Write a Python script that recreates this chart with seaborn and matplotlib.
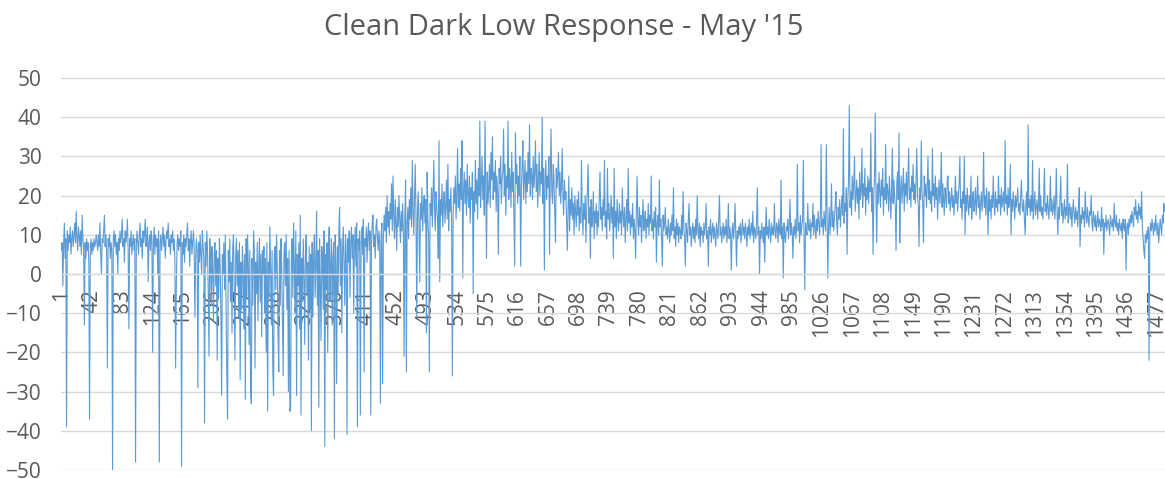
import matplotlib
matplotlib.use("Agg")
import matplotlib.pyplot as plt
import seaborn as sns
import pandas as pd

# half-hourly readings, one row per day (48 per day), May 2015
week1 = [
    6, 8, -3, 7, 13, 4, 9, -39, 11, 6, 10, 8, 12, 5, 9, 11, 7, 10, 13, 8, 16, 9, 6, 12, 10, 7, 11, 5, 15, 9, 7, -13, 8, 4, 9, 6, 8, 3, -37, 7, 9, 5, 8, 6, 9, 7, 8, 10,
    8, 6, 10, 7, 13, 5, 0, 9, 8, 11, 15, 7, 10, 6, -24, 9, 7, 10, 4, 8, 6, -50, 9, 11, 7, 10, 5, 8, 0, 9, 6, 11, 8, 10, 14, 7, 9, 3, 11, 8, 10, 14, 6, -14, 9, 7, 11, 5,
    8, 10, 6, 9, -48, 7, 11, 8, 5, 10, 13, 7, 9, 4, 11, 8, 10, 14, 7, 9, 12, -2, 8, 10, 6, 11, 9, -20, 8, 12, 5, 10, 7, 9, 0, 11, -48, 8, 10, 6, 9, 12, 7, 10, 4, 8, 11, 9,
    13, 7, 9, 5, 10, 8, 11, 6, 9, 4, -24, -2, 8, 10, 6, 9, 7, 11, -49, 8, 5, 10, 3, 9, 7, 10, 13, 6, 9, 2, 8, 11, 5, 8, 11, 7, -11, 4, 9, 6, -29, 8, 3, 10, 5, 0, 11, 7,
    4, -38, 8, 2, 11, 6, -5, -21, 9, 3, -8, 7, 1, -12, 5, 8, -3, 6, -22, 4, -6, 9, 2, -10, -31, 5, 0, 8, -4, 10, -9, -26, -37, 6, -2, 9, -7, 3, -15, 7, 10, -4, -22, 5, 9, -3, 6, -11,
    8, -27, 3, -9, 7, 1, -14, 5, -32, 9, -6, 10, 2, -18, 6, -29, -33, 4, -8, 11, 7, -24, 3, -5, 8, -12, 2, 9, -7, 5, -16, 6, 0, 7, -10, 4, -20, 8, -35, 3, -6, 12, 1, -13, 6, -25, -31, 5,
    7, -4, 10, 2, -15, -25, 6, -8, 9, 1, -12, -26, 5, 8, -3, 10, -9, 4, -30, 6, -35, -34, 3, 9, -6, 13, 2, -10, 11, -31, 5, -3, 8, -14, 15, -36, 4, -7, 9, 0, -18, 6, 10, -5, 3, -22, 7, -9,
]
week2 = [
    5, -40, 8, -11, 4, 10, -6, 2, 16, -8, 6, -34, 9, -2, -17, 7, 3, -9, 11, -44, 5, -4, 8, -20, 6, 12, -7, 2, 9, -13, 4, 8, -42, 10, 3, -28, 7, -5, 11, 17, -3, 9, -15, 6, 12, 2, -8, 10,
    5, -41, 9, 3, 11, -6, 8, 12, 4, 10, -10, 7, 12, 2, 13, -39, 9, 6, 11, -36, 8, 12, 5, 14, -25, 9, 7, 12, 3, 10, 13, 6, 11, -36, 8, 13, 15, 7, 10, 4, 12, 14, 9, 6, 11, 8, -33, 10,
    13, -28, 9, 15, 11, 17, 8, 20, 12, 16, 10, 18, 14, 23, 11, 25, 15, 9, 19, 13, 6, 17, 12, 20, 14, 8, 16, 11, 18, 10, -21, 15, 24, -25, 13, 17, 9, 19, 14, 22, 12, 29, 16, 10, 20, 28, 14, -11,
    16, 21, 12, -2, 18, 14, 22, 11, 17, 20, 13, 19, -15, 26, 14, 10, -25, 18, 15, 22, 12, 20, 29, 16, 11, 21, 17, 14, 4, 34, -2, 19, 15, 23, 12, 18, 21, 13, 17, 24, 14, 28, 11, 19, 16, 22, 13, -26,
    15, 22, 18, 25, 14, 20, 32, 17, 23, 16, 27, 19, 34, -1, 21, 26, 18, 24, 15, 28, 20, 17, 25, 13, 22, 19, 26, -5, 21, 16, 29, 18, 24, 14, 27, 20, 39, 17, 23, 30, 19, 25, 15, 39, 21, 4, 26, 18,
    22, 28, 17, 31, 24, 35, 19, 26, 21, 29, 16, 25, 20, 5, 27, 23, 30, 18, 24, 26, 37, 20, 28, 15, 25, 22, 39, 19, 27, 24, 17, 31, 21, 26, 14, 2, 36, 23, 28, 18, 25, 20, 30, 2, 22, 27, 34, 19,
    24, 29, 18, 26, 21, 31, 23, 38, 20, 27, 25, 19, 30, 22, 26, 34, 21, 28, 17, 24, 31, 20, 26, 23, 40, 18, 27, 1, 24, 29, 19, 25, 22, 30, 5, 26, 37, 21, 18, 28, 24, 16, 8, 27, 22, 25, 31, 20,
]
week3 = [
    26, 18, 23, 32, 20, 15, 24, 19, 21, 13, 6, 17, 25, 11, 19, 15, 22, 14, 18, 10, 20, 16, 12, 19, 15, 21, 11, 17, 13, 29, 16, 10, 18, 14, 20, 8, 16, 22, 28, 13, 17, 4, 19, 12, 15, 21, 9, 16,
    13, 18, 10, 16, 12, 20, 26, 14, 17, 11, 19, 15, 29, 12, 16, 9, 27, 14, 18, 11, 15, 20, 13, 17, 4, 27, 12, 16, 9, 19, 14, 11, 18, 13, 16, 10, 22, 15, 12, 17, 8, 14, 19, 11, 27, 13, 16, 10,
    15, 12, 18, 9, 14, 11, 4, 16, 25, 13, 10, 17, 12, 15, 8, 14, 19, 11, 13, 16, 9, 14, 12, 18, 10, 15, 13, 25, 11, 14, 9, 16, 12, 17, 3, 13, 15, 10, 24, 12, 14, 9, 2, 15, 11, 13, 17, 10,
    12, 9, 14, 11, 8, 13, 10, 15, 11, 22, 9, 12, 7, 14, 10, 13, 8, 12, 11, 9, 15, 10, 21, 12, 9, 2, 13, 11, 8, 14, 18, 10, 12, 7, 11, 13, 9, 12, 8, 14, 10, 20, 11, 9, 13, 7, 12, 10,
    11, 8, 13, 10, 12, 18, 9, 11, 2, 12, 10, 14, 8, 11, 13, 9, 12, 10, 7, 13, 11, 9, 14, 20, 10, 12, 8, 11, 13, 9, 12, 10, 14, 8, 11, 18, 9, 12, 10, 1, 11, 13, 9, 12, 18, 10, 2, 11,
    9, 12, 10, 13, 8, 11, 14, 10, 12, 9, 13, 11, 7, 12, 10, 14, 9, 11, 13, 10, 16, 8, 12, 11, 9, 13, 22, 10, 12, 0, 11, 9, 13, 10, 8, 12, 3, 11, 17, 10, 12, 9, 14, 11, 8, 13, 10, 12,
    10, 18, 11, 9, 13, 12, 8, 14, 11, 10, 24, 9, 12, -1, 13, 10, 8, 12, 11, 14, 9, 12, 19, 10, 13, 11, 4, 12, 10, 14, 9, 12, 28, 11, 13, 8, 15, 10, 12, 14, 29, 9, -4, 13, 11, 10, 18, 12,
]
week4 = [
    11, 14, 9, 13, 12, 18, 10, 15, 12, 9, 14, 11, 16, 13, 10, 15, 33, 12, 14, 10, 16, 13, 11, 33, 15, -1, 12, 17, 10, 14, 23, 12, 16, 11, 14, 18, 21, 13, 10, 17, 14, 19, 12, 16, 20, 15, 37, 13,
    18, 16, 22, 5, 19, 24, 43, 17, 21, 15, 25, 19, 23, 30, 16, 20, 24, 18, 22, 14, 26, 19, 21, 32, 17, 23, 20, 27, 15, 22, 19, 25, 18, 24, 21, 36, 16, 22, 5, 20, 25, 41, 19, 8, 23, 18, 26, 21,
    17, 24, 20, 27, 15, 22, 19, 33, 18, 23, 21, 16, 25, 20, 14, 22, 32, 18, 24, 20, 17, 6, 23, 26, 19, 36, 8, 21, 25, 18, 22, 27, 16, 23, 20, 26, 18, 24, 32, 19, 22, 17, 25, 21, 28, 19, 23, 18,
    24, 32, 20, 17, 7, 22, 19, 34, 21, 18, 8, 25, 20, 23, 17, 22, 30, 19, 24, 18, 21, 16, 32, 20, 23, 17, 25, 19, 22, 14, 20, 24, 18, 21, 31, 17, 23, 19, 15, 22, 20, 17, 24, 25, 18, 21, 16, 19,
    22, 17, 20, 15, 19, 25, 18, 21, 16, 20, 23, 30, 17, 19, 14, 21, 18, 30, 10, 20, 16, 22, 18, 15, 20, 17, 25, 14, 19, 21, 16, 18, 22, 15, 19, 25, 17, 20, 14, 18, 21, 16, 19, 31, 17, 20, 15, 22,
    18, 10, 21, 16, 19, 14, 20, 17, 25, 18, 15, 21, 17, 19, 16, 25, 18, 20, 15, 22, 17, 19, 21, 16, 34, 18, 20, 15, 22, 17, 19, 28, 10, 19, 16, 21, 18, 14, 20, 17, 19, 22, 16, 18, 15, 20, 24, 17,
    16, 19, 14, 10, 18, 21, 15, 38, 17, 19, 15, 20, 16, 29, 14, 18, 21, 15, 17, 19, 14, 18, 27, 16, 20, 15, 17, 14, 19, 27, 16, 18, 15, 20, 17, 14, 18, 25, 16, 19, 15, 17, 20, 14, 18, 27, 16, 10,
]
week5 = [
    17, 14, 19, 25, 15, 18, 13, 16, 19, 14, 17, 15, 28, 13, 16, 18, 14, 17, 12, 16, 19, 15, 13, 17, 14, 16, 12, 18, 22, 7, 15, 13, 17, 14, 16, 12, 21, 15, 13, 17, 14, 12, 16, 15, 20, 13, 11, 16,
    14, 12, 15, 11, 13, 16, 12, 14, 13, 11, 17, 12, 14, 5, 13, 12, 15, 11, 13, 14, 12, 10, 15, 13, 12, 14, 11, 18, 13, 12, 15, 11, 13, 10, 14, 12, 11, 13, 9, 14, 12, 11, 14, 1, 12, 13, 10, 14,
    12, 15, 13, 16, 14, 12, 17, 15, 19, 14, 16, 13, 18, 15, 17, 14, 21, 12, 9, 6, 4, 10, 8, 11, 9, 12, -22, 10, 13, 11, 14, 12, 10, 13, 11, 15, 12, 10, 13, 8, 11, 14, 12, 10, 15, 13, 18, 16,
]

tick_labels = [1, 42, 83, 124, 165, 206, 247, 288, 329, 370, 411, 452, 493, 534, 575, 616,
               657, 698, 739, 780, 821, 862, 903, 944, 985, 1026, 1067, 1108, 1149, 1190,
               1231, 1272, 1313, 1354, 1395, 1436, 1477]
y_ticks = [-50, -40, -30, -20, -10, 0, 10, 20, 30, 40, 50]

response = week1 + week2 + week3 + week4 + week5
df = pd.DataFrame({"reading": range(1, len(response) + 1), "response": response})

sns.set_style("white")
plt.rcParams["font.family"] = ["Open Sans", "DejaVu Sans"]

grey = "#595959"
fig = plt.figure(figsize=(11.65, 4.79), dpi=100)
ax = fig.add_axes([61 / 1165, 1 - 470 / 479, 1104 / 1165, 392 / 479])

sns.lineplot(data=df, x="reading", y="response", ax=ax, color="#5B9BD5",
             linewidth=0.8, estimator=None)

ax.set_xlim(0.5, len(response) + 0.5)
ax.set_ylim(-50, 50)
ax.set_yticks(y_ticks)
ax.set_xticks(tick_labels)
ax.set_xticklabels([str(t) for t in tick_labels])
ax.set_xlabel("")
ax.set_ylabel("")

ax.yaxis.grid(True, color="#d9d9d9", linewidth=1)
ax.xaxis.grid(False)
ax.set_axisbelow(True)
for side in ["top", "right", "left"]:
    ax.spines[side].set_visible(False)
ax.spines["bottom"].set_position(("data", 0))
ax.spines["bottom"].set_color("#d9d9d9")
ax.spines["bottom"].set_linewidth(1)

ax.tick_params(axis="x", length=0, pad=11, labelsize=15, labelcolor=grey, labelrotation=90)
ax.tick_params(axis="y", length=0, pad=14, labelsize=15, labelcolor=grey)
for lbl in ax.get_yticklabels():
    lbl.set_verticalalignment("center_baseline")

fig.text(564 / 1165, 1 - 35 / 479, "Clean Dark Low Response - May '15",
         ha="center", va="baseline", fontsize=21, color=grey)

fig.savefig("out.png", dpi=100)
